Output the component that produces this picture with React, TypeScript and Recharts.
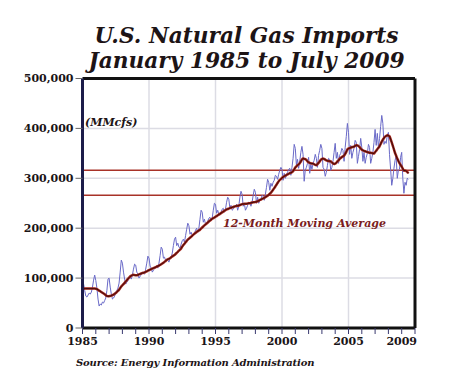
import React from 'react';
import { LineChart, Line, XAxis, YAxis, CartesianGrid, ReferenceLine } from 'recharts';

const startYear = 1985;

// Monthly U.S. natural gas imports (MMcf), Jan 1985 - Jul 2009
const monthlyImports = [
  // 1985
  98000, 88000, 75000, 64000, 62000, 66000, 70000, 68000, 72000, 82000, 96000, 106000,
  // 1986
  95000, 80000, 58000, 44000, 48000, 46000, 52000, 50000, 55000, 60000, 75000, 98000,
  // 1987
  100000, 82000, 68000, 58000, 60000, 64000, 72000, 75000, 80000, 90000, 112000, 136000,
  // 1988
  130000, 112000, 98000, 88000, 92000, 95000, 102000, 104000, 98000, 106000, 118000, 128000,
  // 1989
  126000, 112000, 108000, 100000, 104000, 106000, 112000, 110000, 108000, 118000, 130000, 144000,
  // 1990
  140000, 124000, 120000, 112000, 116000, 118000, 122000, 125000, 120000, 130000, 145000, 162000,
  // 1991
  158000, 140000, 142000, 135000, 138000, 136000, 132000, 140000, 142000, 150000, 165000, 178000,
  // 1992
  182000, 165000, 170000, 162000, 160000, 168000, 175000, 178000, 172000, 185000, 198000, 210000,
  // 1993
  205000, 188000, 192000, 185000, 188000, 190000, 196000, 200000, 192000, 200000, 218000, 236000,
  // 1994
  232000, 212000, 218000, 208000, 210000, 214000, 220000, 222000, 215000, 220000, 236000, 250000,
  // 1995
  248000, 230000, 236000, 228000, 226000, 232000, 238000, 240000, 232000, 238000, 252000, 262000,
  // 1996
  258000, 240000, 246000, 236000, 238000, 242000, 244000, 248000, 236000, 244000, 262000, 274000,
  // 1997
  268000, 244000, 250000, 236000, 240000, 246000, 252000, 250000, 244000, 252000, 266000, 278000,
  // 1998
  272000, 250000, 262000, 250000, 256000, 258000, 266000, 264000, 256000, 268000, 282000, 298000,
  // 1999
  292000, 276000, 290000, 284000, 292000, 296000, 306000, 304000, 298000, 308000, 316000, 322000,
  // 2000
  318000, 296000, 310000, 300000, 306000, 312000, 318000, 320000, 306000, 322000, 340000, 368000,
  // 2001
  360000, 326000, 338000, 320000, 334000, 352000, 364000, 348000, 294000, 316000, 322000, 330000,
  // 2002
  342000, 310000, 328000, 318000, 330000, 336000, 348000, 340000, 322000, 346000, 356000, 368000,
  // 2003
  360000, 322000, 318000, 304000, 312000, 326000, 340000, 338000, 316000, 322000, 334000, 352000,
  // 2004
  370000, 340000, 352000, 330000, 346000, 350000, 360000, 356000, 334000, 362000, 384000, 410000,
  // 2005
  392000, 348000, 366000, 340000, 352000, 360000, 376000, 372000, 330000, 344000, 358000, 380000,
  // 2006
  362000, 334000, 352000, 330000, 342000, 350000, 368000, 362000, 330000, 340000, 352000, 372000,
  // 2007
  398000, 366000, 390000, 362000, 380000, 404000, 426000, 410000, 368000, 374000, 370000, 386000,
  // 2008
  392000, 348000, 318000, 286000, 300000, 320000, 336000, 344000, 300000, 316000, 318000, 342000,
  // 2009
  352000, 300000, 270000, 292000, 286000, 300000, 298000,
];

const yTicks = [0, 100000, 200000, 300000, 400000, 500000];
const xTicks = [
  1985, 1986, 1987, 1988, 1989, 1990, 1991, 1992, 1993, 1994, 1995, 1996, 1997,
  1998, 1999, 2000, 2001, 2002, 2003, 2004, 2005, 2006, 2007, 2008, 2009, 2010,
];
const labeledYears = [1985, 1990, 1995, 2000, 2005, 2009];
const gridYears = [1990, 1995, 2000, 2005];
const referenceLevels = [316000, 266000];

const data = monthlyImports.map((v, i) => {
  const lo = Math.max(0, i - 11);
  const hi = Math.max(11, i);
  const win = monthlyImports.slice(lo, hi + 1);
  return {
    t: startYear + i / 12,
    imports: v,
    avg: win.reduce((a, b) => a + b, 0) / win.length,
  };
});

const SERIF = "'DejaVu Serif', serif";
const W = 442;
const H = 381;

const fmt = (v: number) => v.toLocaleString('en-US');

export default function App() {
  return (
    <div style={{ position: 'relative', width: W, height: H, background: '#fff' }}>
      <LineChart
        width={W}
        height={H}
        data={data}
        margin={{ top: 70.5, right: 35, bottom: 31, left: 0 }}
      >
        <CartesianGrid vertical={false} stroke="#dcdce4" strokeWidth={1.5} />
        {gridYears.map((g) => (
          <ReferenceLine key={g} x={g} stroke="#dcdce4" strokeWidth={1.5} />
        ))}
        <XAxis
          type="number"
          dataKey="t"
          domain={[1985, 2010]}
          ticks={xTicks}
          interval={0}
          tickFormatter={(v: number) => (labeledYears.includes(v) ? String(v) : '')}
          axisLine={{ stroke: '#111', strokeWidth: 3 }}
          tickLine={{ stroke: '#3a3a70' }}
          tickSize={6}
          tickMargin={3}
          height={30}
          tick={{ fill: '#1a1416', fontSize: 11, fontWeight: 'bold', fontFamily: SERIF }}
        />
        <YAxis
          type="number"
          domain={[0, 500000]}
          ticks={yTicks}
          interval={0}
          tickFormatter={fmt}
          width={74.5}
          axisLine={{ stroke: '#1c1c4a', strokeWidth: 3 }}
          tickLine={{ stroke: '#666' }}
          tickSize={7}
          tickMargin={2}
          tick={{ fill: '#1a1416', fontSize: 11, fontWeight: 'bold', fontFamily: SERIF }}
        />
        {referenceLevels.map((r) => (
          <ReferenceLine key={r} y={r} stroke="#a83228" strokeWidth={1.5} />
        ))}
        <ReferenceLine y={500000} stroke="#111" strokeWidth={3} />
        <ReferenceLine x={2010} stroke="#111" strokeWidth={3} />
        <Line
          type="linear"
          dataKey="imports"
          stroke="#6a6ac8"
          strokeWidth={1}
          dot={false}
          isAnimationActive={false}
        />
        <Line
          type="monotone"
          dataKey="avg"
          stroke="#a02219"
          strokeWidth={2.5}
          dot={false}
          isAnimationActive={false}
        />
        <Line
          type="monotone"
          dataKey="avg"
          stroke="#2a0808"
          strokeWidth={0.9}
          dot={false}
          isAnimationActive={false}
        />
      </LineChart>
      <svg
        width={W}
        height={H}
        style={{ position: 'absolute', left: 0, top: 0, pointerEvents: 'none' }}
      >
        <g fontFamily={SERIF} fontWeight="bold" fontStyle="italic">
          <text x={238.5} y={35} textAnchor="middle" fontSize={21.7} fill="#1d1416">
            U.S. Natural Gas Imports
          </text>
          <text x={238.5} y={60} textAnchor="middle" fontSize={21.7} fill="#1d1416">
            January 1985 to July 2009
          </text>
          <text x={77} y={118} fontSize={11} fill="#1d1416">
            (MMcfs)
          </text>
          <text x={215} y={219} fontSize={11} fill="#7a1c1c">
            12-Month Moving Average
          </text>
          <text x={68} y={358} fontSize={10} letterSpacing={-0.15} fill="#1d1416">
            Source: Energy Information Administration
          </text>
        </g>
      </svg>
    </div>
  );
}
